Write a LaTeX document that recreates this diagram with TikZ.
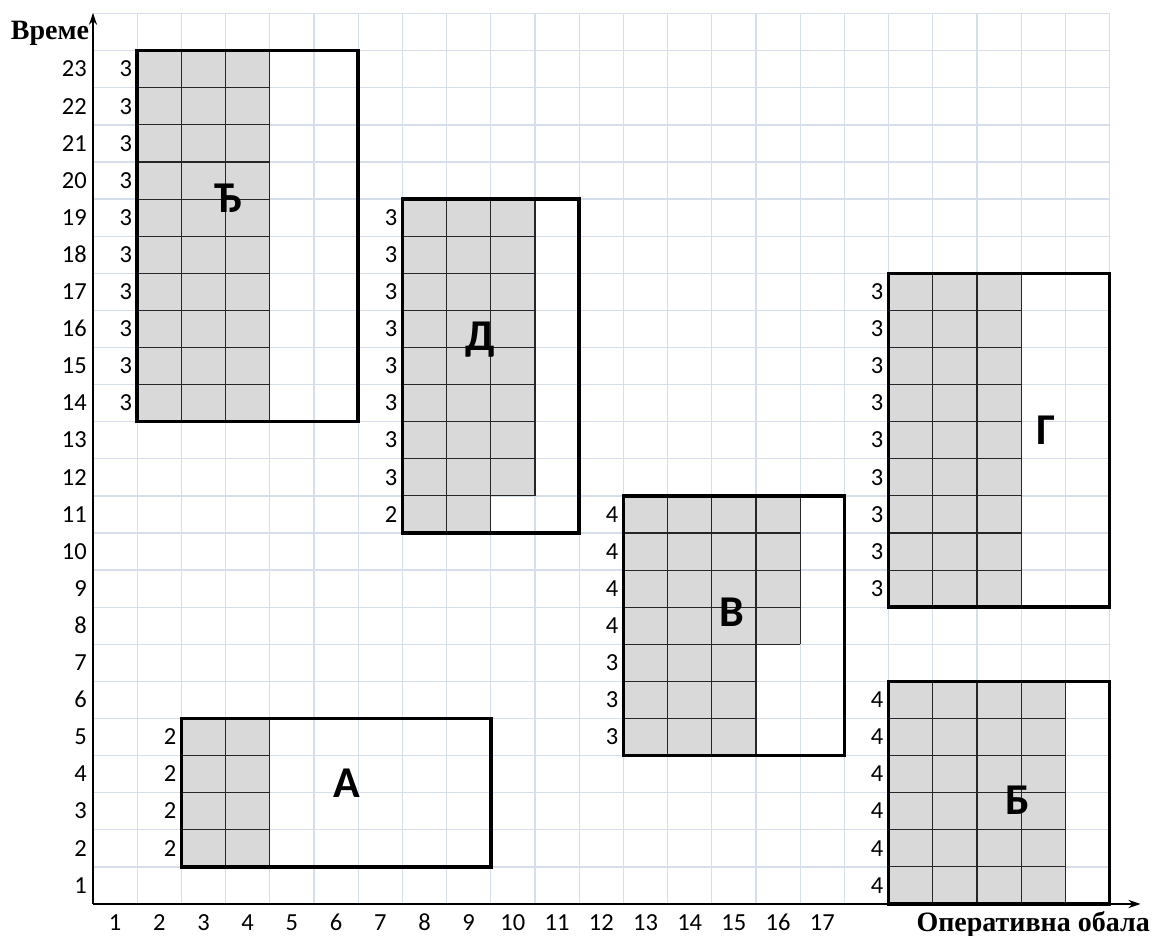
\documentclass[tikz,border=0pt]{standalone}
\usepackage{fontspec}
\setmainfont{Carlito}
\newfontfamily\serbf{Liberation Serif}
\usetikzlibrary{arrows.meta}
\definecolor{gridc}{HTML}{D6DDEB}
\definecolor{cellc}{HTML}{D9D9D9}
\begin{document}
\begin{tikzpicture}[x=44.2pt,y=37.1pt,
 gridline/.style={draw=gridc,line width=1.3pt,step=1},
 cellfill/.style={fill=cellc},
 cellline/.style={draw=black!85,line width=1.1pt,step=1},
 berth/.style={draw=black,line width=3.5pt},
 axis/.style={draw=black,line width=2pt,-{Stealth[length=12pt,width=8pt]}},
 num/.style={font=\fontsize{24.5}{26}\selectfont,inner sep=0pt,text height=15.5pt,text depth=0pt},
 cnt/.style={num,anchor=east},
 ship/.style={font=\bfseries\fontsize{44}{44}\selectfont,inner sep=0pt},
 axlabel/.style={font=\serbf\bfseries\fontsize{28}{30}\selectfont,inner sep=0pt}]
\useasboundingbox (-93pt,-32pt) rectangle (1059pt,904pt);
% background grid
\draw[gridline] (0,0) grid (23,24);
% shaded areas
\fill[cellfill] (1,13) rectangle (4,23);
\fill[cellfill] (7,11) rectangle (10,19);
\fill[cellfill] (7,10) rectangle (9,11);
\fill[cellfill] (12,7) rectangle (16,11);
\fill[cellfill] (12,4) rectangle (15,7);
\fill[cellfill] (18,8) rectangle (21,17);
\fill[cellfill] (18,0) rectangle (22,6);
\fill[cellfill] (2,1) rectangle (4,5);
\draw[cellline] (1,13) grid (4,23);
\draw[cellline] (7,11) grid (10,19);
\draw[cellline] (7,10) grid (9,11);
\draw[cellline] (12,7) grid (16,11);
\draw[cellline] (12,4) grid (15,7);
\draw[cellline] (18,8) grid (21,17);
\draw[cellline] (18,0) grid (22,6);
\draw[cellline] (2,1) grid (4,5);
% berth boxes
\draw[berth] (1,13) rectangle (6,23);
\draw[berth] (7,10) rectangle (11,19);
\draw[berth] (12,4) rectangle (17,11);
\draw[berth] (18,8) rectangle (23,17);
\draw[berth] (18,0) rectangle (23,6);
\draw[berth] (2,1) rectangle (9,5);
% axes
\coordinate (O) at (0,0);
\coordinate (ytop) at (0,24.02);
\coordinate (xend) at (23.7,0);
\draw[axis] (O) -- (ytop);
\draw[axis] (O) -- (xend);
\node[axlabel] (ylab) at (-43pt,871pt) {Време};
\node[axlabel,anchor=east] (xlab) at (1057pt,-20pt) {Оперативна обала};
% axis numbers
\foreach \i in {1,...,23} \node[num,anchor=east] (yn\i) at ([xshift=-6pt]0,\i-0.5) {\i};
\foreach \i in {1,...,17} \node[num] (xn\i) at ([yshift=-19pt]\i-0.5,0) {\i};
% counts
\foreach \r in {14,...,23} \node[cnt] (cj\r) at ([xshift=-5pt]1,\r-0.5) {3};
\foreach \r in {12,...,19} \node[cnt] (cd\r) at ([xshift=-5pt]7,\r-0.5) {3};
\node[cnt] (cd11) at ([xshift=-5pt]7,10.5) {2};
\foreach \r in {8,...,11} \node[cnt] (cv\r) at ([xshift=-5pt]12,\r-0.5) {4};
\foreach \r in {5,...,7} \node[cnt] (cv\r) at ([xshift=-5pt]12,\r-0.5) {3};
\foreach \r in {9,...,17} \node[cnt] (cg\r) at ([xshift=-5pt]18,\r-0.5) {3};
\foreach \r in {1,...,6} \node[cnt] (cb\r) at ([xshift=-5pt]18,\r-0.5) {4};
\foreach \r in {2,...,5} \node[cnt] (ca\r) at ([xshift=-5pt]2,\r-0.5) {2};
% ship letters
\node[ship] (sDj) at (3.054,19.03) {Ђ};
\node[ship] (sD) at (8.756,15.2) {Д};
\node[ship] (sV) at (14.46,7.87) {В};
\node[ship] (sG) at (21.56,12.78) {Г};
\node[ship] (sB) at (20.93,2.80) {Б};
\node[ship] (sA) at (5.747,3.26) {А};
\end{tikzpicture}
\end{document}
